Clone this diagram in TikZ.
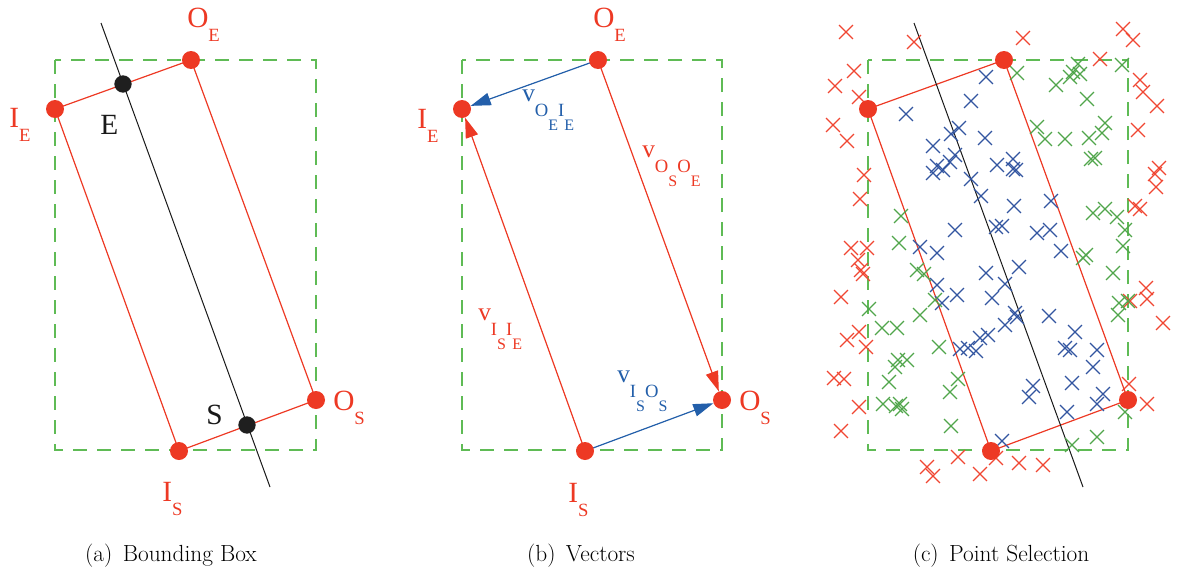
\documentclass[tikz,border=0pt]{standalone}
\usepackage{fontspec}
\newfontfamily\tms{Liberation Serif}
\usetikzlibrary{arrows.meta,shapes.misc}
\pgfdeclarelayer{bg}
\pgfsetlayers{bg,main}
\definecolor{dotred}{RGB}{237,57,36}
\definecolor{boxgreen}{RGB}{95,187,85}
\definecolor{arrblue}{RGB}{35,95,170}
\definecolor{xblue}{RGB}{50,85,160}
\definecolor{xgreen}{RGB}{80,165,75}
\definecolor{xred}{RGB}{240,70,50}
\newcommand\sublab[2]{{\tms\fontsize{22}{22}\selectfont #1\raisebox{-10.5pt}{\fontsize{14}{14}\selectfont #2}}}
\newcommand\vlab[4]{{\tms\fontsize{19}{19}\selectfont v\raisebox{-11.5pt}{\fontsize{14}{14}\selectfont #1\raisebox{-10.5pt}{\fontsize{12}{12}\selectfont #2}#3\raisebox{-10.5pt}{\fontsize{12}{12}\selectfont #4}}}}
\tikzset{
  dotR/.style={circle, fill=dotred, inner sep=0pt, minimum size=13.5pt},
  dotK/.style={circle, fill=black!88, inner sep=0pt, minimum size=13pt},
  redline/.style={draw=dotred, line width=0.9pt},
  bbox/.style={draw=boxgreen, dash pattern=on 10.5pt off 7.5pt, line width=0.9pt},
  axisline/.style={draw=black!90, line width=0.75pt},
  lab/.style={inner sep=0pt, anchor=base west, text=dotred},
  blab/.style={inner sep=0pt, anchor=base west, text=black!90, font=\tms\fontsize{22}{22}\selectfont},
  vecarrow/.style={line width=0.9pt, -{Triangle[length=15pt,width=9.5pt]}},
  xmark/.style={cross out, draw, inner sep=0pt, minimum size=9.5pt, line width=0.9pt},
  caption/.style={anchor=base, inner sep=0pt, font=\fontsize{17.5}{20}\selectfont}
}
\begin{document}
\begin{tikzpicture}[x=0.75pt, y=-0.75pt]
\useasboundingbox (0,0) rectangle (1179,575);

% ---------------- (a) Bounding Box ----------------
\coordinate (aB1) at (55,60);
\coordinate (aB2) at (316,450);
\draw[bbox] (aB1) rectangle (aB2);
\coordinate (aTop) at (101,23);
\coordinate (aBot) at (270,487);
\node[dotR] (aOE) at (191,60) {};
\node[dotR] (aIE) at (55,109) {};
\node[dotR] (aOS) at (316,400) {};
\node[dotR] (aIS) at (179,451) {};
\node[dotK] (aE) at (123,84) {};
\node[dotK] (aS) at (247,425) {};
\begin{pgfonlayer}{bg}
\draw[redline] (aIE.center) -- (aOE.center) -- (aOS.center) -- (aIS.center) -- cycle;
\draw[axisline] (aTop) -- (aBot);
\end{pgfonlayer}
\node[lab] (aOElab) at (187,27) {\sublab{O}{E}};
\node[lab] (aIElab) at (9,127) {\sublab{I}{E}};
\node[lab] (aOSlab) at (333,410) {\sublab{O}{S}};
\node[lab] (aISlab) at (162,501) {\sublab{I}{S}};
\node[blab] (aElab) at (100,134) {E};
\node[blab] (aSlab) at (206,424) {S};
\node[caption] (capA) at (171,561) {(a)\kern2.5pt\ Bounding Box};

% ---------------- (b) Vectors ----------------
\coordinate (bB1) at (462,60);
\coordinate (bB2) at (722,450);
\draw[bbox] (bB1) rectangle (bB2);
\node[dotR] (bOE) at (598,60) {};
\node[dotR] (bIE) at (462,109) {};
\node[dotR] (bOS) at (722,400) {};
\node[dotR] (bIS) at (585,451) {};
\begin{pgfonlayer}{bg}
\draw[vecarrow, draw=arrblue, fill=arrblue] (bOE.center) -- (bIE);
\draw[vecarrow, draw=arrblue, fill=arrblue] (bIS.center) -- (bOS);
\draw[vecarrow, draw=dotred, fill=dotred] (bIS.center) -- (bIE);
\draw[vecarrow, draw=dotred, fill=dotred] (bOE.center) -- (bOS);
\end{pgfonlayer}
\node[lab] (bOElab) at (593,27) {\sublab{O}{E}};
\node[lab] (bIElab) at (417,128) {\sublab{I}{E}};
\node[lab] (bOSlab) at (739,410) {\sublab{O}{S}};
\node[lab] (bISlab) at (568,502) {\sublab{I}{S}};
\node[lab, text=arrblue] (v1) at (522,101) {\vlab{O}{E}{I}{E}};
\node[lab] (v2) at (642,157) {\vlab{O}{S}{O}{E}};
\node[lab] (v3) at (478,320) {\vlab{I}{S}{I}{E}};
\node[lab, text=arrblue] (v4) at (617,382) {\vlab{I}{S}{O}{S}};
\node[caption] (capB) at (581,561) {(b)\kern2.5pt\ Vectors};

% ---------------- (c) Point Selection ----------------
\coordinate (cB1) at (868,60);
\coordinate (cB2) at (1128,450);
\draw[bbox] (cB1) rectangle (cB2);
\coordinate (cTop) at (914,23);
\coordinate (cBot) at (1083,487);
\foreach \p [count=\i] in {(846,32),(914,42),(1023,38),(1123,29),(1133,40),(854,71),(835,86),(859,97),(833,125),(847,141),(1100,59),(1140,80),(1143,92),(1157,106),(1138,130),(1159,168),(1155,174),(1156,187),(1135,206),(1140,209),(864,175),(860,199),(851,248),(867,248),(858,260),(861,270),(863,274),(841,297),(859,332),(847,340),(866,347),(834,378),(844,379),(859,407),(841,431),(927,467),(933,476),(958,457),(980,474),(996,458),(1019,463),(1043,465),(1146,288),(1147,299),(1130,301),(1163,323),(1129,384),(1147,404)}
  \node[xmark, draw=xred] (xr\i) at \p {};
\foreach \p [count=\i] in {(986,77),(971,101),(906,114),(959,128),(951,134),(985,138),(933,146),(955,155),(950,162),(937,166),(933,173),(943,170),(971,179),(997,165),(1013,159),(1013,169),(1016,170),(981,196),(1014,206),(1051,201),(955,230),(996,227),(1002,226),(1037,233),(1050,230),(920,247),(937,253),(1061,251),(1019,267),(986,273),(1005,284),(937,285),(957,295),(992,298),(942,303),(1015,313),(1017,317),(1005,325),(1049,316),(1075,332),(980,338),(988,335),(960,349),(968,348),(976,351),(1065,348),(1070,350),(1097,350),(1093,367),(1033,386),(1029,397),(1072,383),(1103,394),(1097,404),(1067,412),(1002,441)}
  \node[xmark, draw=xblue] (xb\i) at \p {};
\foreach \p [count=\i] in {(1017,73),(1078,64),(1073,72),(1080,74),(1070,77),(1056,85),(1122,65),(1087,99),(1037,127),(1045,139),(1065,139),(1089,138),(1102,133),(1105,123),(1091,159),(1095,158),(901,216),(899,243),(1093,213),(1105,209),(1117,217),(1125,230),(1123,246),(1083,258),(1086,255),(917,270),(924,274),(935,300),(869,309),(920,315),(882,328),(897,328),(939,347),(898,360),(907,360),(895,367),(889,382),(958,379),(950,392),(883,404),(896,406),(900,404),(902,409),(951,426),(1113,273),(1119,303),(1128,301),(1118,315),(1125,412),(1097,437),(1072,445)}
  \node[xmark, draw=xgreen] (xg\i) at \p {};
\node[dotR] (cOE) at (1004,60) {};
\node[dotR] (cIE) at (868,109) {};
\node[dotR] (cOS) at (1128,400) {};
\node[dotR] (cIS) at (991,451) {};
\begin{pgfonlayer}{bg}
\draw[redline] (cIE.center) -- (cOE.center) -- (cOS.center) -- (cIS.center) -- cycle;
\draw[axisline] (cTop) -- (cBot);
\end{pgfonlayer}
\node[caption] (capC) at (1001,561) {(c)\kern2.5pt\ Point Selection};
\end{tikzpicture}
\end{document}
